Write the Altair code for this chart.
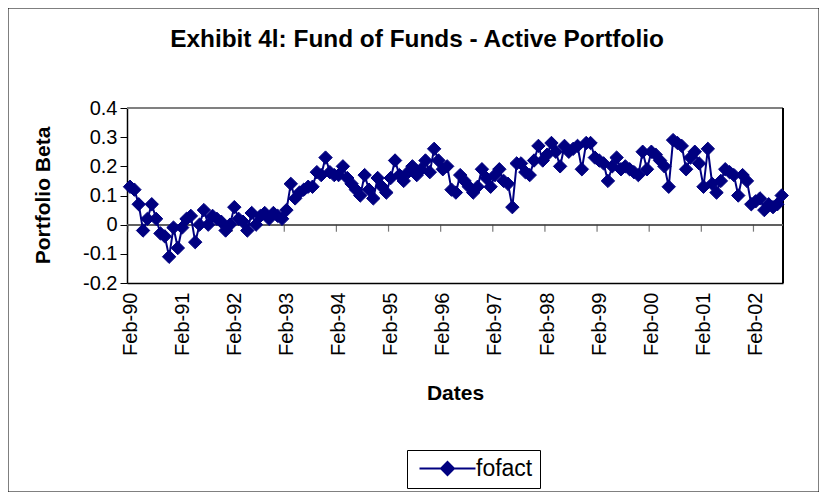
import json
import altair as alt
import pandas as pd

# ---- data ----
BETA = [
    0.13, 0.12, 0.07, -0.02, 0.02, 0.07, 0.02, -0.03, -0.04, -0.11, -0.01, -0.08,
    -0.01, 0.02, 0.03, -0.06, 0.00, 0.05, 0.00, 0.03, 0.02, 0.01, -0.02, 0.00,
    0.06, 0.02, 0.01, -0.02, 0.04, 0.00, 0.03, 0.04, 0.02, 0.04, 0.03, 0.02,
    0.05, 0.14, 0.09, 0.11, 0.12, 0.13, 0.13, 0.18, 0.17, 0.23, 0.18, 0.17,
    0.17, 0.20, 0.16, 0.14, 0.12, 0.10, 0.17, 0.12, 0.09, 0.16, 0.13, 0.11,
    0.16, 0.22, 0.17, 0.15, 0.18, 0.20, 0.17, 0.19, 0.22, 0.18, 0.26, 0.22,
    0.19, 0.20, 0.12, 0.11, 0.17, 0.15, 0.13, 0.11, 0.13, 0.19, 0.16, 0.13,
    0.17, 0.19, 0.15, 0.14, 0.06, 0.21, 0.21, 0.18, 0.17, 0.22, 0.27, 0.22,
    0.24, 0.28, 0.25, 0.20, 0.27, 0.25, 0.26, 0.27, 0.19, 0.28, 0.28, 0.23,
    0.22, 0.21, 0.15, 0.20, 0.23, 0.19, 0.20, 0.19, 0.18, 0.17, 0.25, 0.19,
    0.25, 0.24, 0.22, 0.20, 0.13, 0.29, 0.28, 0.27, 0.19, 0.23, 0.25, 0.21,
    0.13, 0.26, 0.14, 0.11, 0.15, 0.19, 0.18, 0.17, 0.10, 0.17, 0.15, 0.07,
    0.08, 0.09, 0.05, 0.07, 0.06, 0.07, 0.10,
]
MONTHS = pd.date_range("1990-02-01", periods=len(BETA), freq="MS").strftime("%b-%y").tolist()
TICK_LABELS = ["Feb-90", "Feb-91", "Feb-92", "Feb-93", "Feb-94", "Feb-95", "Feb-96",
               "Feb-97", "Feb-98", "Feb-99", "Feb-00", "Feb-01", "Feb-02"]
Y_TICKS = [-0.2, -0.1, 0.0, 0.1, 0.2, 0.3, 0.4]
SERIES = "fofact"
TITLE = "Exhibit 4l: Fund of Funds - Active Portfolio"

NAVY = "#000080"
FONT = "Liberation Sans"

df = pd.DataFrame({"idx": list(range(len(BETA))), "month": MONTHS, "beta": BETA, "series": SERIES})
tick_idx = [MONTHS.index(l) for l in TICK_LABELS]
ticks_df = pd.DataFrame({"pos": [i - 0.5 for i in tick_idx]})

X_DOMAIN = [-0.7, len(BETA) - 1 + 0.3]
xscale = alt.Scale(domain=X_DOMAIN, nice=False, zero=False)
yscale = alt.Scale(domain=[Y_TICKS[0], Y_TICKS[-1]], nice=False, zero=False)

label_expr = f"{json.dumps(TICK_LABELS)}[indexof({json.dumps(tick_idx)}, datum.value)]"

x_axis = alt.Axis(
    values=tick_idx, labelExpr=label_expr, labelAngle=-90, ticks=False, grid=False,
    labelOverlap=False,
    domainColor="black", domainWidth=1.5, labelFontSize=20, labelPadding=9, labelFont=FONT,
    labelColor="black",
    title="Dates", titleFontSize=21, titleFont=FONT, titleFontWeight="bold", titleColor="black",
    titleY=110, titleBaseline="middle",
)
y_axis = alt.Axis(
    values=Y_TICKS, labelExpr="toString(round(datum.value*10)/10)", grid=False,
    labelOverlap=False, tickCount=7,
    tickSize=7, tickColor="black", domainColor="black", domainWidth=1.5,
    labelFontSize=20, labelPadding=3, labelFont=FONT, labelColor="black",
    title="Portfolio Beta", titleFontSize=21, titleFont=FONT, titleFontWeight="bold",
    titleColor="black", titleX=-84, titleY=87, titleAngle=270, titleBaseline="middle",
    titleAlign="center",
)

# custom legend symbol: a line with a diamond in its middle (drawn at size 100 -> scale 5px)
legend_path = "M-5.6,0L5.6,0M0,-1.3L1.3,0L0,1.3L-1.3,0Z"

base = alt.Chart(df)

border = alt.Chart(pd.DataFrame({"a": [0]})).mark_rect(
    fillOpacity=0, stroke="black", strokeWidth=1
).encode(x=alt.value(-119), x2=alt.value(692), y=alt.value(-100), y2=alt.value(384))

zero_line = base.mark_rule(color="#606060", strokeWidth=1).encode(
    y=alt.Y(datum=0, scale=yscale, axis=y_axis))
top_line = base.mark_rule(color="#808080", strokeWidth=1.5).encode(
    y=alt.Y(datum=Y_TICKS[-1], scale=yscale, axis=y_axis))
right_line = base.mark_rule(color="black", strokeWidth=1.5).encode(
    x=alt.X(datum=X_DOMAIN[1], scale=xscale, axis=x_axis))

xticks = alt.Chart(ticks_df).mark_tick(
    orient="vertical", size=7, thickness=1.2, color="#404040", yOffset=3.5
).encode(x=alt.X("pos:Q", scale=xscale, axis=x_axis),
         y=alt.Y(datum=0, scale=yscale, axis=y_axis))

line = base.mark_line(strokeWidth=2, color=NAVY).encode(
    x=alt.X("idx:Q", scale=xscale, axis=x_axis),
    y=alt.Y("beta:Q", scale=yscale, axis=y_axis),
)
points = base.mark_point(shape="diamond", filled=True, size=180, stroke=NAVY,
                         strokeWidth=1, opacity=1).encode(
    x=alt.X("idx:Q", scale=xscale, axis=x_axis),
    y=alt.Y("beta:Q", scale=yscale, axis=y_axis),
    color=alt.Color("series:N", scale=alt.Scale(range=[NAVY]),
                    legend=alt.Legend(
                        orient="none", legendX=280, legendY=342, title=None,
                        symbolType=legend_path, symbolSize=100, symbolStrokeWidth=2,
                        symbolFillColor=NAVY, symbolStrokeColor=NAVY, symbolOffset=22,
                        labelFontSize=23, labelFont=FONT, labelColor="black",
                        strokeColor="black", fillColor="white", padding=7, labelOffset=17,
                    )),
)

chart = alt.layer(border, top_line, right_line, zero_line, xticks, line, points).properties(
    width=656, height=175,
    title=alt.Title(TITLE, fontSize=24.4, fontWeight="bold", font=FONT, color="black",
                    anchor="middle", dx=-38, offset=-45),
    autosize=alt.AutoSizeParams(type="none"),
    padding={"left": 119, "top": 100, "right": 36, "bottom": 209},
).configure_view(stroke="transparent", strokeWidth=0).configure(background="white")

chart.save("out.html", embed_options={"renderer": "svg", "actions": False})
